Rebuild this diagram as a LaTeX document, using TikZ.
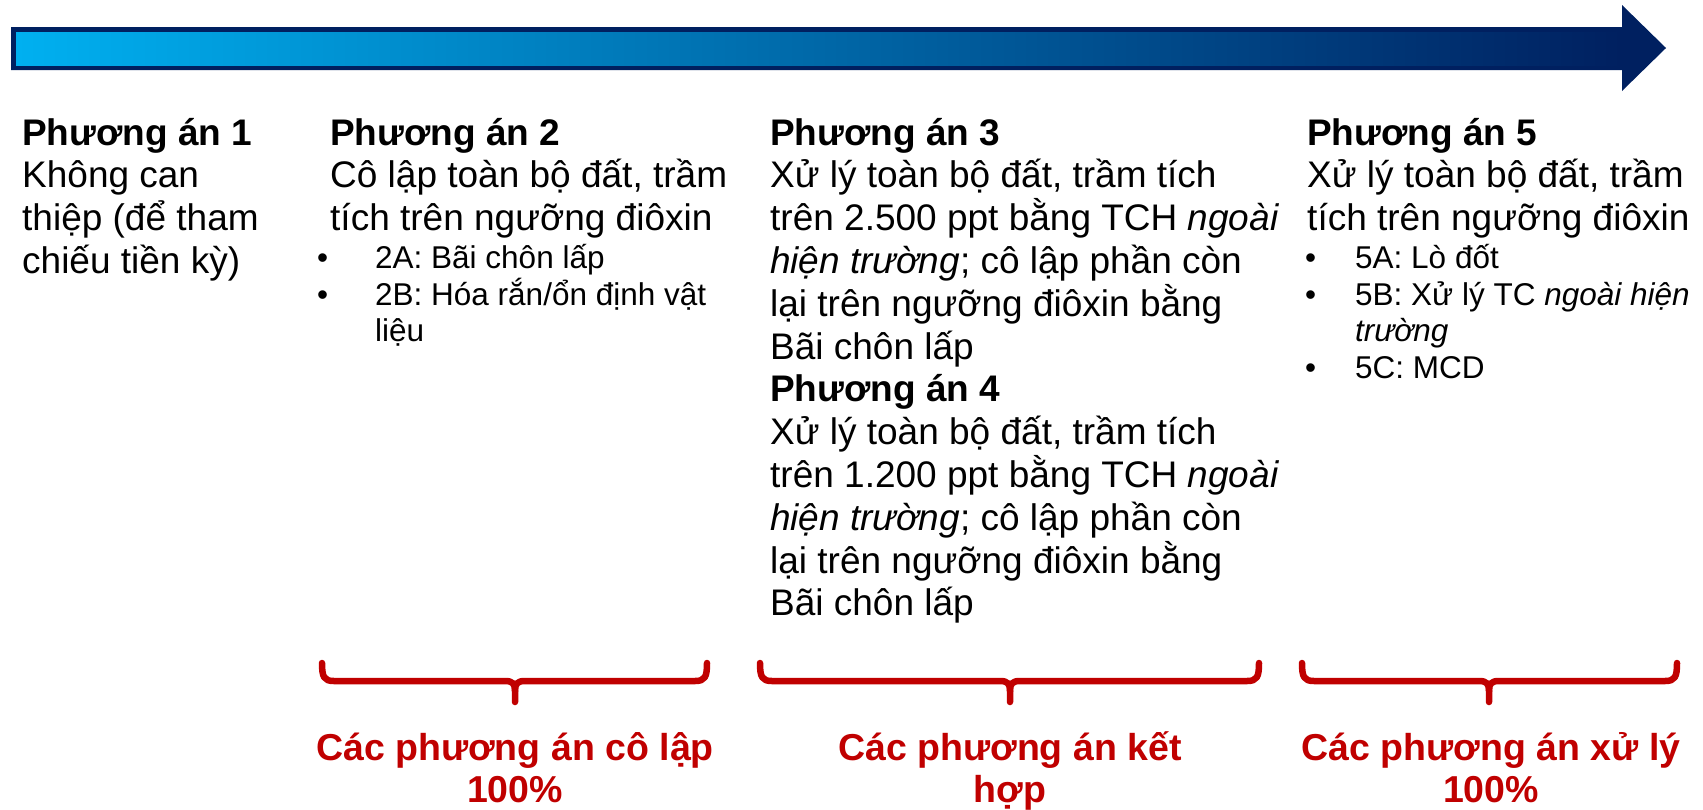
\documentclass[tikz,border=0pt]{standalone}
\usepackage{fontspec}
\setmainfont{Liberation Sans}
\definecolor{navy}{HTML}{002060}
\definecolor{skyblue}{HTML}{00B0F0}
\definecolor{midblue}{HTML}{0070C0}
\definecolor{bracered}{HTML}{C00000}
\tikzset{
  body/.style={anchor=base west, inner sep=0pt, font=\fontsize{37}{42.8}\selectfont},
  head/.style={anchor=base west, inner sep=0pt, font=\bfseries\fontsize{37}{42.8}\selectfont},
  bul/.style={anchor=base west, inner sep=0pt, font=\fontsize{31.5}{36.5}\selectfont},
  group/.style={anchor=base, inner sep=0pt, text=bracered, font=\bfseries\fontsize{37.5}{45}\selectfont},
  redbrace/.style={draw=bracered, line width=6.5pt, line cap=round, line join=round}
}
\newcommand{\bracket}[3]{% left x, right x, centre x
  \draw[redbrace] (#1,663) .. controls (#1,677) and (#1+2,681) .. (#1+12,681)
    -- (#3-10,681) .. controls (#3-2,681) and (#3,684) .. (#3,691) -- (#3,702);
  \draw[redbrace] (#2,663) .. controls (#2,677) and (#2-2,681) .. (#2-12,681)
    -- (#3+10,681) .. controls (#3+2,681) and (#3,684) .. (#3,691);
}
\begin{document}
\begin{tikzpicture}[x=1pt,y=-1pt]
\useasboundingbox (0,0) rectangle (1703,809);

% timeline arrow
\fill[navy] (11,27) -- (1622,27) -- (1622,5) -- (1666,48) -- (1622,91)
  -- (1622,70) -- (11,70) -- cycle;
\shade[left color=skyblue, middle color=midblue, right color=navy]
  (16,32) rectangle (1622,65);

% option 1
\node[head] (h1)  at (22,145)   {Phương án 1};
\node[body] (b1a) at (22,187.8) {Không can};
\node[body] (b1b) at (22,230.6) {thiệp (để tham};
\node[body] (b1c) at (22,273.4) {chiếu tiền kỳ)};

% option 2
\node[head] (h2)  at (330,145)   {Phương án 2};
\node[body] (b2a) at (330,187.8) {Cô lập toàn bộ đất, trầm};
\node[body] (b2b) at (330,230.6) {tích trên ngưỡng điôxin};
\node[bul]  (d2a) at (317,268.5) {•};
\node[bul]  (t2a) at (375,268.5)   {2A: Bãi chôn lấp};
\node[bul]  (d2b) at (317,305)   {•};
\node[bul]  (t2b) at (375,305)     {2B: Hóa rắn/ổn định vật};
\node[bul]  (t2c) at (375,341.5)   {liệu};

% options 3 and 4
\node[head] (h3)  at (770,145)   {Phương án 3};
\node[body] (b3a) at (770,187.8) {Xử lý toàn bộ đất, trầm tích};
\node[body] (b3b) at (770,230.6) {trên 2.500 ppt bằng TCH \textit{ngoài}};
\node[body] (b3c) at (770,273.4) {\textit{hiện trường}; cô lập phần còn};
\node[body] (b3d) at (770,316.2) {lại trên ngưỡng điôxin bằng};
\node[body] (b3e) at (770,359.0) {Bãi chôn lấp};
\node[head] (h4)  at (770,401.8) {Phương án 4};
\node[body] (b4a) at (770,444.6) {Xử lý toàn bộ đất, trầm tích};
\node[body] (b4b) at (770,487.4) {trên 1.200 ppt bằng TCH \textit{ngoài}};
\node[body] (b4c) at (770,530.2) {\textit{hiện trường}; cô lập phần còn};
\node[body] (b4d) at (770,573.0) {lại trên ngưỡng điôxin bằng};
\node[body] (b4e) at (770,615.8) {Bãi chôn lấp};

% option 5
\node[head] (h5)  at (1307,145)   {Phương án 5};
\node[body] (b5a) at (1307,187.8) {Xử lý toàn bộ đất, trầm};
\node[body] (b5b) at (1307,230.6) {tích trên ngưỡng điôxin};
\node[bul]  (d5a) at (1305,268.5) {•};
\node[bul]  (t5a) at (1355,268.5)   {5A: Lò đốt};
\node[bul]  (d5b) at (1305,305)   {•};
\node[bul]  (t5b) at (1355,305)     {5B: Xử lý TC \textit{ngoài hiện}};
\node[bul]  (t5c) at (1355,341.5)   {\textit{trường}};
\node[bul]  (d5c) at (1305,378)   {•};
\node[bul]  (t5d) at (1355,378)     {5C: MCD};

% grouping brackets
\bracket{322}{707}{515}
\bracket{760}{1259}{1010}
\bracket{1302}{1677}{1489}

% group labels
\node[group] (g1a) at (515,760)  {Các phương án cô lập};
\node[group] (g1b) at (515,802)  {100\%};
\node[group] (g2a) at (1010,760) {Các phương án kết};
\node[group] (g2b) at (1010,802) {hợp};
\node[group] (g3a) at (1491,760) {Các phương án xử lý};
\node[group] (g3b) at (1491,802) {100\%};
\end{tikzpicture}
\end{document}
